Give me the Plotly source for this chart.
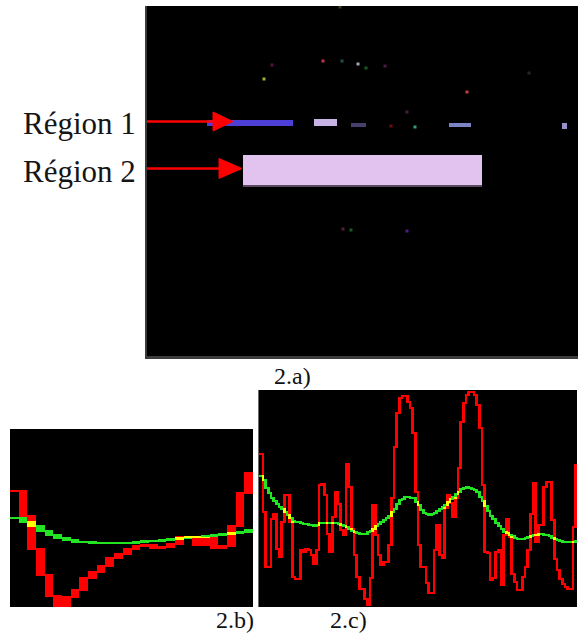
import plotly.graph_objects as go

W, H = 578, 636

# ---------------- panel 2.a : image blobs (image column / row units) ----------------
blob_col0 = [60, 167, 204, 302, 415, 96, 96]
blob_col1 = [146, 190, 219, 324, 420, 335, 335]
blob_row0 = [114, 113, 117, 117, 117, 149, 179]
blob_row1 = [120, 120, 121, 121, 123, 179, 181]
blob_colors = ["#4d3ed8", "#c8b4e4", "#463f6c", "#7c84c6", "#9a8ed0", "#e2c3ef", "#5a4a5e"]

dot_cols = [193, 125, 176, 195, 211, 219, 238, 117, 320, 382, 260, 244, 268, 196, 204, 260]
dot_rows = [1, 59, 55, 55, 58, 62, 60, 73, 86, 67, 106, 120, 121, 223, 224, 225]
dot_colors = ["#3a3a10", "#5a1040", "#c03050", "#1f5050", "#a8a0b8", "#1a5a1a", "#4a1a4a",
              "#a0b040", "#c04040", "#202830", "#402040", "#6a1010", "#30a080", "#502030",
              "#1a5a1a", "#4a2080"]

region_labels = ["Région 1", "Région 2"]
# arrows: (tail col, tip col, row, head length, head half height)
arrow_tail = [-4, -2]
arrow_tip = [86, 95]
arrow_row = [115.5, 162.5]
arrow_head_len = [20, 23]
arrow_head_half = [9.5, 10]

# ---------------- panel 2.b ----------------
b_red = [116, 91, 58, 32, 11, 1, 10, 17, 29, 35, 41, 49, 53, 58, 61, 62, 59, 60, 63, 70,
         70, 62, 69, 59, 61, 81, 114, 134]
b_green = [89, 85, 81, 76, 72, 69, 67, 65, 65, 64, 64, 64, 64, 64, 65, 66, 66, 67, 68, 69,
           70, 70, 71, 72, 73, 74, 75, 77]

# ---------------- panel 2.c ----------------
c_red = [153, 95, 40, 40, 88, 93, 58, 50, 85, 112,
         112, 85, 30, 28, 28, 57, 55, 58, 57, 52,
         43, 57, 122, 123, 112, 73, 55, 90, 115, 103,
         77, 72, 143, 120, 78, 52, 30, 18, 18, 8,
         2, 29, 102, 72, 52, 42, 45, 45, 62, 109,
         160, 194, 209, 211, 211, 205, 199, 174, 115, 62,
         40, 40, 24, 14, 14, 57, 82, 52, 49, 99,
         112, 104, 90, 109, 139, 185, 204, 212, 215, 215,
         212, 202, 179, 122, 55, 54, 27, 29, 55, 57,
         22, 72, 88, 70, 33, 25, 17, 17, 30, 40,
         57, 93, 124, 65, 82, 82, 120, 125, 125, 87,
         48, 37, 28, 23, 20, 18, 18, 80, 142]
c_green = [131, 127, 119, 114, 109, 106, 103, 100, 98, 95,
           92, 89, 86, 85, 85, 84, 83, 83, 82, 82,
           81, 82, 84, 84, 84, 84, 84, 84, 84, 83,
           82, 81, 80, 78, 76, 75, 74, 73, 73, 73,
           75, 76, 78, 81, 83, 85, 87, 89, 91, 95,
           98, 103, 107, 108, 110, 110, 109, 109, 105, 102,
           97, 94, 93, 92, 93, 94, 96, 98, 100, 102,
           105, 108, 110, 113, 115, 118, 119, 120, 119, 118,
           117, 115, 110, 106, 101, 96, 91, 88, 84, 81,
           78, 75, 74, 72, 71, 69, 68, 68, 68, 69,
           70, 71, 72, 72, 73, 73, 72, 72, 71, 69,
           68, 67, 66, 65, 65, 65, 65, 65, 66]

captions = ["2.a)", "2.b)", "2.c)"]

RED, GREEN, YELLOW = "#ff0000", "#22e622", "#ffff00"


def spans(vals, thick):
    lo, hi = [], []
    prev = vals[0]
    for v in vals:
        lo.append(min(prev, v) - thick / 2)
        hi.append(max(prev, v) + thick / 2)
        prev = v
    return lo, hi


def overlap(lo1, hi1, lo2, hi2):
    lo, h = [], []
    for a, b, c, d in zip(lo1, hi1, lo2, hi2):
        l, u = max(a, c), min(b, d)
        lo.append(l)
        h.append(max(0, u - l))
    return lo, h


def col_bars(lo, hi, color, xa, ya, heights=None):
    xs = [i + 0.5 for i in range(len(lo))]
    hs = heights if heights is not None else [b - a for a, b in zip(lo, hi)]
    return go.Bar(x=xs, y=hs, base=lo, width=1.0, xaxis=xa, yaxis=ya,
                  marker=dict(color=color, line=dict(width=0)),
                  showlegend=False, hoverinfo="skip")


fig = go.Figure()

# ---- panel a ----
fig.add_trace(go.Bar(
    orientation="h",
    y=[(a + b) / 2 for a, b in zip(blob_row0, blob_row1)],
    x=[b - a for a, b in zip(blob_col0, blob_col1)],
    base=blob_col0,
    width=[b - a for a, b in zip(blob_row0, blob_row1)],
    marker=dict(color=blob_colors, line=dict(width=0)),
    xaxis="x", yaxis="y", showlegend=False, hoverinfo="skip"))
fig.add_trace(go.Scatter(x=dot_cols, y=dot_rows, mode="markers", xaxis="x", yaxis="y",
                         marker=dict(symbol="square", size=3, color=dot_colors),
                         showlegend=False, hoverinfo="skip"))
for t, p, r, hl, hh in zip(arrow_tail, arrow_tip, arrow_row, arrow_head_len, arrow_head_half):
    fig.add_trace(go.Scatter(x=[t, p - hl], y=[r, r], mode="lines", xaxis="x", yaxis="y",
                             line=dict(color=RED, width=2.5), showlegend=False, hoverinfo="skip"))
    fig.add_trace(go.Scatter(x=[p - hl, p - hl, p, p - hl], y=[r - hh, r + hh, r, r - hh],
                             mode="lines", fill="toself", fillcolor=RED,
                             line=dict(color=RED, width=1), xaxis="x", yaxis="y",
                             showlegend=False, hoverinfo="skip"))

# ---- panel b ----
brl, brh = spans(b_red, 1.5)
bgl, bgh = spans(b_green, 2.0)
fig.add_trace(col_bars(brl, brh, RED, "x2", "y2"))
fig.add_trace(col_bars(bgl, bgh, GREEN, "x2", "y2"))
byl, byh = overlap(brl, brh, bgl, bgh)
fig.add_trace(col_bars(byl, None, YELLOW, "x2", "y2", heights=byh))

# ---- panel c ----
crl, crh = spans(c_red, 2.8)
cgl, cgh = spans(c_green, 2.2)
fig.add_trace(col_bars(crl, crh, RED, "x3", "y3"))
fig.add_trace(col_bars(cgl, cgh, GREEN, "x3", "y3"))
cyl, cyh = overlap(crl, crh, cgl, cgh)
fig.add_trace(col_bars(cyl, None, YELLOW, "x3", "y3", heights=cyh))

common = dict(showgrid=False, zeroline=False, showticklabels=False, ticks="", fixedrange=True)


def px_x(a, b):
    return [a / W, b / W]


def px_y(top, bottom):
    return [(H - bottom) / H, (H - top) / H]


fig.update_layout(
    width=W, height=H, autosize=False,
    margin=dict(l=0, r=0, t=0, b=0, pad=0),
    paper_bgcolor="white", plot_bgcolor="black",
    barmode="overlay", bargap=0,
    xaxis=dict(domain=px_x(147, 578), range=[0, 431], anchor="y", showline=True,
               linecolor="#3c3c3c", linewidth=3, **common),
    yaxis=dict(domain=px_y(6, 356), range=[350, 0], anchor="x", showline=True,
               linecolor="#3c3c3c", linewidth=2, **common),
    xaxis2=dict(domain=px_x(10, 253), range=[0, len(b_red)], anchor="y2", **common),
    yaxis2=dict(domain=px_y(429, 607), range=[0, 178], anchor="x2", **common),
    xaxis3=dict(domain=px_x(259, 577), range=[0, len(c_red)], anchor="y3", **common),
    yaxis3=dict(domain=px_y(390, 607), range=[0, 217], anchor="x3", showline=True,
                linecolor="#6a6a6a", linewidth=1, **common),
)

serif = "Liberation Serif, Times New Roman, serif"
label_y = [123, 171]
for lab, ly in zip(region_labels, label_y):
    fig.add_annotation(text=lab, x=138 / W, y=1 - ly / H, xref="paper", yref="paper",
                       xanchor="right", yanchor="middle", showarrow=False,
                       font=dict(family=serif, size=31, color="#151515"))

cap_x = [292, 235, 348]
cap_y = [376, 620, 620]
for t, cx, cy in zip(captions, cap_x, cap_y):
    fig.add_annotation(text=t, x=cx / W, y=1 - cy / H, xref="paper", yref="paper",
                       xanchor="center", yanchor="middle", showarrow=False,
                       font=dict(family=serif, size=24, color="#111111"))

fig.write_html("out.html", config={"displayModeBar": False},
               post_script="document.body.style.margin='0';document.body.style.overflow='hidden';")
